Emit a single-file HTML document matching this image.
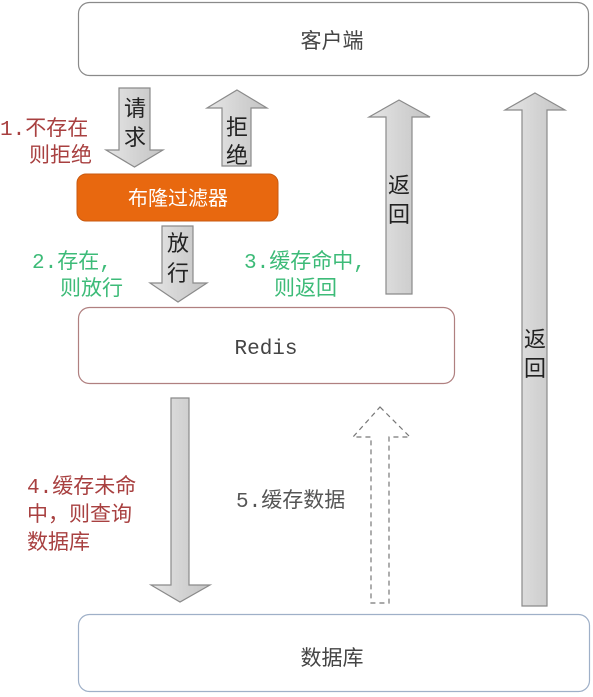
<!DOCTYPE html>
<html><head><meta charset="utf-8"><style>
html,body{margin:0;padding:0;background:#fff;width:593px;height:697px;overflow:hidden}
text{font-family:"Liberation Sans","Noto Sans CJK SC",sans-serif}
.m{font-family:"Liberation Mono","Noto Sans CJK SC",monospace}
</style></head><body>
<svg width="593" height="697" viewBox="0 0 593 697" xmlns="http://www.w3.org/2000/svg">
<defs>
<linearGradient id="g" x1="0" x2="1" y1="0" y2="0">
<stop offset="0" stop-color="#e6e6e6"/><stop offset="0.5" stop-color="#d4d4d4"/><stop offset="1" stop-color="#c4c4c4"/>
</linearGradient>
</defs>
<rect x="78.5" y="2.5" width="510" height="73" rx="11" fill="#fff" stroke="#8a8a8a" stroke-width="1.2"/>
<text x="332" y="48" font-size="21" text-anchor="middle" fill="#444">客户端</text>
<rect x="77" y="174" width="201" height="47" rx="9" fill="#e8680f" stroke="#c95a10"/>
<text x="178" y="205" font-size="20" text-anchor="middle" fill="#fff">布隆过滤器</text>
<rect x="78.5" y="307.5" width="376" height="76" rx="11" fill="#fff" stroke="#b08080" stroke-width="1.2"/>
<text x="266" y="354" font-size="21" text-anchor="middle" fill="#444" class="m">Redis</text>
<rect x="78.5" y="614.5" width="511" height="77" rx="11" fill="#fff" stroke="#9fb0c8" stroke-width="1.2"/>
<text x="332" y="665" font-size="21" text-anchor="middle" fill="#444">数据库</text>
<g fill="url(#g)" stroke="#8a8a8a" stroke-width="1.2">
<polygon points="119,88 150,88 150,150 163,150 134.5,167 106,150 119,150"/>
<polygon points="237,90 267,108 251,108 251,166 222,166 222,108 207,108"/>
<polygon points="162,226 193,226 193,283 207,283 178,302 150,283 162,283"/>
<polygon points="399,100 430,117 412,117 412,294 386,294 386,117 369,117"/>
<polygon points="535,93 565,110 547,110 547,606 522,606 522,110 505,110"/>
<polygon points="171,398 189,398 189,585 210,585 180,602 151,585 171,585"/>
</g>
<polygon points="380,407 410,437 389,437 389,603 371,603 371,437 353,437" fill="none" stroke="#777" stroke-width="1.2" stroke-dasharray="5,4"/>
<g font-size="22" fill="#222" text-anchor="middle">
<text x="135" y="116">请</text><text x="135" y="145">求</text>
<text x="237" y="135">拒</text><text x="237" y="163">绝</text>
<text x="178" y="251">放</text><text x="178" y="281">行</text>
<text x="399" y="193">返</text><text x="399" y="222">回</text>
<text x="535" y="347">返</text><text x="535" y="376">回</text>
</g>
<g font-size="21" class="m">
<text x="0" y="135" fill="#a84040" class="m">1.不存在</text>
<text x="29" y="162" fill="#a84040" class="m">则拒绝</text>
<text x="32" y="268" fill="#3dbb78" class="m">2.存在,</text>
<text x="60" y="295" fill="#3dbb78" class="m">则放行</text>
<text x="244" y="268" fill="#3dbb78" class="m">3.缓存命中,</text>
<text x="274" y="295" fill="#3dbb78" class="m">则返回</text>
<text x="27" y="493" fill="#a84040" class="m">4.缓存未命</text>
<text x="27" y="521" fill="#a84040" class="m">中，则查询</text>
<text x="27" y="549" fill="#a84040" class="m">数据库</text>
<text x="236" y="507" fill="#555" class="m">5.缓存数据</text>
</g>
</svg>
</body></html>
